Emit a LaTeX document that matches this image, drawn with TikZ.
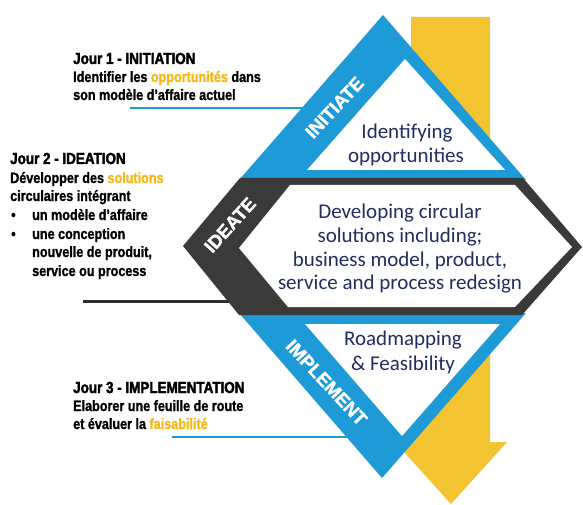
\documentclass[tikz,border=0pt]{standalone}
\usepackage{fontspec}
\setmainfont{Liberation Sans}
\newfontfamily\condf[FakeStretch=0.84, FakeBold=1.2]{Liberation Sans}
\newfontfamily\condt[FakeStretch=0.84, FakeBold=2.2]{Liberation Sans}
\newfontfamily\bandf[FakeBold=1.3]{Liberation Sans}
\newfontfamily\calf{Carlito}
\definecolor{cblue}{RGB}{30,154,214}
\definecolor{cdark}{RGB}{58,58,58}
\definecolor{cyel}{RGB}{243,196,50}
\definecolor{cnavy}{RGB}{32,46,96}
\definecolor{corange}{RGB}{247,184,20}
\definecolor{cline}{RGB}{45,45,45}
\begin{document}
\begin{tikzpicture}[x=1pt,y=-1pt,
  ann/.style={anchor=base west, inner sep=0pt, font=\condf\bfseries\fontsize{15}{18}\selectfont, text=black},
  anntitle/.style={ann, font=\condt\bfseries\fontsize{16}{18}\selectfont},
  inner/.style={anchor=base, inner sep=0pt, font=\calf\fontsize{21}{24}\selectfont, text=cnavy},
  band/.style={inner sep=0pt, font=\bandf\bfseries\fontsize{18.5}{20}\selectfont, text=white}
]
\useasboundingbox (0,0) rectangle (583,505);
\fill[white] (0,0) rectangle (583,505);

% connector lines
\coordinate (l1s) at (130,108); \coordinate (l1e) at (303,108);
\coordinate (l2s) at (83,301);  \coordinate (l2e) at (232,301);
\coordinate (l3s) at (172,437); \coordinate (l3e) at (348,437);
\draw[cblue, line width=2.5pt] (l1s) -- (l1e);
\draw[cline, line width=3pt] (l2s) -- (l2e);
\draw[cblue, line width=2.5pt] (l3s) -- (l3e);

% yellow arrow
\fill[cyel] (411,17) -- (490,17) -- (490,442) -- (507,442) -- (451,504) -- (395,442) -- (411,442) -- cycle;

% blue triangles
\fill[cblue] (383,15) -- (526,180) -- (239,180) -- cycle;
\fill[cblue] (239,313) -- (526,313) -- (382,478) -- cycle;
% dark hexagon
\fill[cdark] (240,178) -- (523,178) -- (582,247) -- (522,315) -- (239,315) -- (183,246) -- cycle;
% white insides
\fill[white] (405,59) -- (505,170) -- (307,170) -- cycle;
\fill[white] (290,185) -- (515,185) -- (572,247) -- (515,307) -- (288,307) -- (239,248) -- cycle;
\fill[white] (305,324) -- (500,324) -- (402,436) -- cycle;

% band labels
\node[band, rotate=47] (initiate) at (334.5,107.5) {INITIATE};
\node[band, rotate=48] (ideate) at (230,225) {IDEATE};
\node[band, rotate=-47] (implement) at (326.5,382.5) {IMPLEMENT};

% inner texts
\node[inner] (t1a) at (407,139) {Identifying};
\node[inner] (t1b) at (406,163) {opportunities};
\node[inner] (t2a) at (400,218) {Developing circular};
\node[inner] (t2b) at (400,242) {solutions including;};
\node[inner] (t2c) at (400,266) {business model, product,};
\node[inner] (t2d) at (400,289) {service and process redesign};
\node[inner] (t3a) at (403,345) {Roadmapping};
\node[inner] (t3b) at (403,370) {\& Feasibility};

% annotations
\node[anntitle] (j1) at (73,64) {Jour 1 - INITIATION};
\node[ann] (j1a) at (73,82) {Identifier les \textcolor{corange}{opportunités} dans};
\node[ann] (j1b) at (73,100) {son modèle d’affaire actuel};

\node[anntitle] (j2) at (10,164) {Jour 2 - IDEATION};
\node[ann] (j2a) at (10,183) {Développer des \textcolor{corange}{solutions}};
\node[ann] (j2b) at (10,201) {circulaires intégrant};
\node[ann] (b1) at (11,220) {•};
\node[ann] (j2c) at (32,220) {un modèle d’affaire};
\node[ann] (b2) at (11,239) {•};
\node[ann] (j2d) at (32,239) {une conception};
\node[ann] (j2e) at (32,257) {nouvelle de produit,};
\node[ann] (j2f) at (32,276) {service ou process};

\node[anntitle] (j3) at (73,393) {Jour 3 - IMPLEMENTATION};
\node[ann] (j3a) at (73,411) {Elaborer une feuille de route};
\node[ann] (j3b) at (73,429) {et évaluer la \textcolor{corange}{faisabilité}};
\end{tikzpicture}
\end{document}
